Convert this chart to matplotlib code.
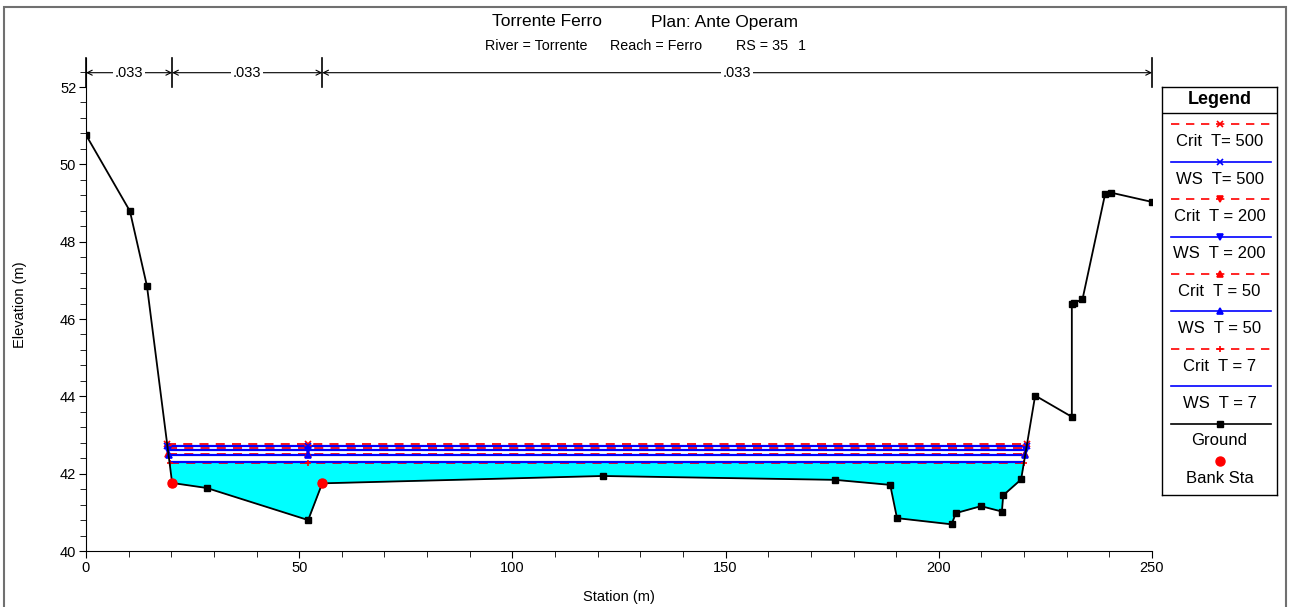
"""
HEC-RAS style cross section: Torrente Ferro, RS 35.
"""
import numpy as np
import matplotlib.pyplot as plt
from matplotlib.patches import Rectangle
from matplotlib.ticker import MultipleLocator

plt.rcParams['font.family'] = ['Liberation Sans', 'DejaVu Sans']

# == Ground profile == #
station = [0, 10.3, 14.3, 20.2, 28.3, 52.1, 55.4, 121.2, 175.7, 188.6, 190.2,
           203.0, 204.0, 209.9, 214.8, 215.1, 219.3, 222.6, 231.2, 231.2,
           231.8, 233.7, 239.0, 240.3, 249.9]
elev = [50.76, 48.79, 46.85, 41.76, 41.63, 40.80, 41.75, 41.94, 41.84, 41.71,
        40.85, 40.69, 40.98, 41.16, 41.02, 41.44, 41.85, 44.02, 43.47, 46.40,
        46.42, 46.51, 49.23, 49.27, 49.03]
bank_sta = [20.2, 55.4]

# == Water surfaces (top to bottom in legend) == #
profiles = ['Crit  T= 500', 'WS  T= 500', 'Crit  T = 200', 'WS  T = 200',
            'Crit  T = 50', 'WS  T = 50', 'Crit  T = 7', 'WS  T = 7']
levels = [42.78, 42.72, 42.67, 42.61, 42.50, 42.47, 42.28, 42.29]
markers = ['x', 'x', 'v', 'v', '^', '^', '+', None]

# == Manning's n regions == #
n_bounds = [0, 20.2, 55.4, 250]
n_values = ['.033', '.033', '.033']

station = np.array(station)
elev = np.array(elev)


def edges(wl):
    # left crossing, scanning rightwards
    for i in range(len(station) - 1):
        if elev[i] >= wl > elev[i + 1]:
            xl = np.interp(wl, [elev[i + 1], elev[i]], [station[i + 1], station[i]])
            il = i + 1
            break
    # right crossing, scanning leftwards
    for i in range(len(station) - 1, 0, -1):
        if elev[i] >= wl > elev[i - 1]:
            xr = np.interp(wl, [elev[i - 1], elev[i]], [station[i - 1], station[i]])
            ir = i
            break
    return xl, xr, il, ir


W, H = 1289, 607
fig = plt.figure(figsize=(W / 100, H / 100), dpi=100)
ax = fig.add_axes([86 / W, 1 - 551 / H, (1152 - 86) / W, (551 - 58) / H])

# == Water fill (lowest WS) == #
wl7 = levels[-1]
xl, xr, il, ir = edges(wl7)
xf = np.concatenate([[xl], station[il:ir], [xr]])
gf = np.concatenate([[wl7], elev[il:ir], [wl7]])
ax.fill_between(xf, gf, wl7, color='#00FFFF', lw=0, zorder=1)

# == Water surface lines == #
for k in [0, 2, 4, 6, 1, 3, 5, 7]:
    wl = levels[k]
    xl, xr, _, _ = edges(wl)
    crit = profiles[k].startswith('Crit')
    col = 'red' if crit else 'blue'
    ls = (0, (5, 4)) if crit else '-'
    ax.plot([xl, xr], [wl, wl], color=col, ls=ls, lw=1.3 if crit else 1.6,
            zorder=3 if crit else 4)
    if markers[k]:
        ax.plot([xl, 52.1, xr], [wl] * 3, ls='none', marker=markers[k],
                color=col, ms=5, mew=1.2, zorder=5)

# == Ground and bank stations == #
ax.plot(station, elev, color='black', lw=1.3, marker='s', ms=4.5, zorder=6)
ax.plot(bank_sta, np.interp(bank_sta, station, elev), 'o', color='red',
        ms=6.5, zorder=7)

# == n-value bars == #
y_arrow = 52.37
for j in range(len(n_values)):
    a, b = n_bounds[j], n_bounds[j + 1]
    ax.annotate('', xy=(b, y_arrow), xytext=(a, y_arrow),
                arrowprops=dict(arrowstyle='<->', lw=0.8, color='black',
                                shrinkA=0, shrinkB=0, mutation_scale=9),
                annotation_clip=False)
    ax.text((a + b) / 2, y_arrow, n_values[j], ha='center', va='center',
            fontsize=10.5, bbox=dict(fc='white', ec='none', pad=1.5), zorder=8)
for xb in n_bounds:
    ax.plot([xb, xb], [52.0, 52.75], color='black', lw=1.2, clip_on=False)

# == Axes styling == #
ax.set_xlim(0, 250)
ax.set_ylim(40, 52.75)
ax.spines['top'].set_visible(False)
ax.spines['right'].set_visible(False)
ax.xaxis.set_major_locator(MultipleLocator(50))
ax.xaxis.set_minor_locator(MultipleLocator(10))
ax.yaxis.set_major_locator(MultipleLocator(2))
ax.yaxis.set_minor_locator(MultipleLocator(0.4))
ax.tick_params(which='major', length=5, labelsize=10.5, pad=2)
ax.tick_params(which='minor', length=4)
ax.set_xlabel('Station (m)', fontsize=10.5)
ax.set_ylabel('Elevation (m)', fontsize=10.5)
ax.xaxis.set_label_coords(0.5, (551 - 597) / 493)
ax.yaxis.set_label_coords((20 - 86) / 1066, 0.5)
ax.xaxis.label.set_va('center')
ax.yaxis.label.set_va('center')

# == Titles == #
fig.text(546.5 / W, 1 - 22 / H, 'Torrente Ferro', ha='center', va='center',
         fontsize=12.5)
fig.text(724.5 / W, 1 - 22 / H, 'Plan: Ante Operam', ha='center',
         va='center', fontsize=12.5)
for xs, s in [(536.5, 'River = Torrente'), (656.5, 'Reach = Ferro'),
              (762.5, 'RS = 35'), (802, '1')]:
    fig.text(xs / W, 1 - 46 / H, s, ha='center', va='center', fontsize=10.3)

# == Outer frame == #
fig.patches.append(Rectangle((4 / W, -0.01), 1282 / W, 1 - 7 / H + 0.01,
                             transform=fig.transFigure, fill=False,
                             ec='#707070', lw=1.5))

# == Legend (drawn in pixel coordinates) == #
lx0, lx1, ly0, ly1 = 1162, 1277, 87, 495
lg = fig.add_axes([lx0 / W, 1 - ly1 / H, (lx1 - lx0) / W, (ly1 - ly0) / H])
lg.set_xlim(lx0, lx1)
lg.set_ylim(ly1, ly0)
lg.set_xticks([])
lg.set_yticks([])
for s in lg.spines.values():
    s.set_linewidth(1.0)
lg.plot([lx0, lx1], [113.3, 113.3], color='black', lw=1)
lg.text((lx0 + lx1) / 2, 99, 'Legend', ha='center', va='center',
        fontsize=13, fontweight='bold')
xm = (lx0 + lx1) / 2
for i, lab in enumerate(profiles + ['Ground', 'Bank Sta']):
    ys = 124.3 + 37.4 * i
    yt = 141.7 + 37.4 * i
    if i < len(profiles):
        crit = lab.startswith('Crit')
        col = 'red' if crit else 'blue'
        lg.plot([1171, 1271], [ys, ys], color=col,
                ls=(0, (5, 4)) if crit else '-', lw=1.2)
        if markers[i]:
            lg.plot(xm, ys, marker=markers[i], color=col, ms=5, mew=1.2)
    elif lab == 'Ground':
        lg.plot([1171, 1271], [ys, ys], color='black', lw=1.2)
        lg.plot(xm, ys, 's', color='black', ms=5)
    else:
        lg.plot(xm, ys, 'o', color='red', ms=6.5)
    lg.text(xm, yt, lab, ha='center', va='center', fontsize=12)

fig.savefig('out.png', dpi=100)
